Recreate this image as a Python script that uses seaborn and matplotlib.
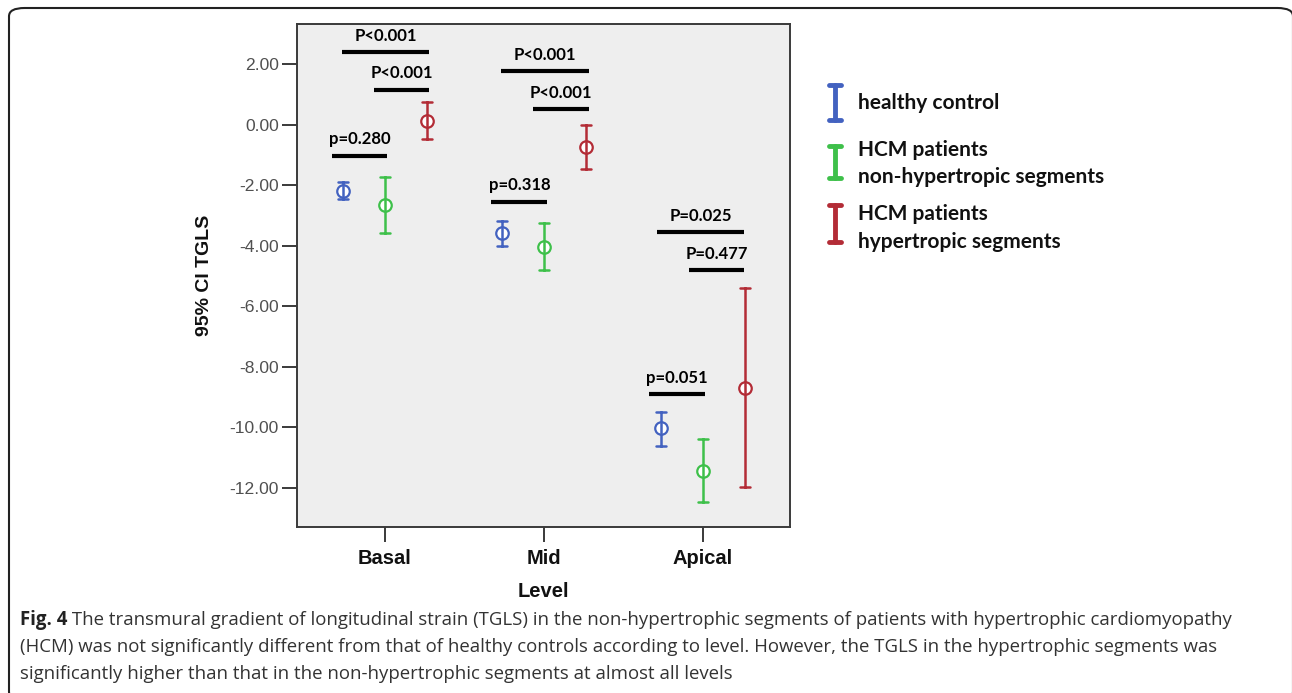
import numpy as np
import pandas as pd
import seaborn as sns
import matplotlib
matplotlib.use("Agg")
import matplotlib.pyplot as plt
from matplotlib.lines import Line2D
from matplotlib.patches import FancyBboxPatch

# ---------------- data ----------------
levels = ["Basal", "Mid", "Apical"]
groups = ["healthy control",
          "HCM patients\nnon-hypertropic segments",
          "HCM patients\nhypertropic segments"]
colors = ["#4362c0", "#3ec04a", "#b32c36"]

mean_healthy = [-2.18, -3.59, -10.03]
lo_healthy = [-2.47, -4.00, -10.60]
hi_healthy = [-1.91, -3.18, -9.48]

mean_nonhyp = [-2.65, -4.03, -11.43]
lo_nonhyp = [-3.58, -4.80, -12.47]
hi_nonhyp = [-1.73, -3.26, -10.39]

mean_hyp = [0.13, -0.73, -8.69]
lo_hyp = [-0.49, -1.47, -11.97]
hi_hyp = [0.74, -0.02, -5.41]

yticks = [2, 0, -2, -4, -6, -8, -10, -12]

# significance annotations: level index, label, bar height (y), bar span relative to level
ann_level = [0, 0, 0, 1, 1, 1, 2, 2, 2]
ann_text = ["P<0.001", "P<0.001", "p=0.280",
            "P<0.001", "P<0.001", "p=0.318",
            "P=0.025", "P=0.477", "p=0.051"]
ann_y = [2.40, 1.15, -1.03, 1.76, 0.50, -2.55, -3.55, -4.80, -8.90]
ann_x0 = [-0.27, -0.07, -0.33, -0.27, -0.07, -0.33, -0.29, -0.09, -0.34]
ann_x1 = [0.28, 0.28, 0.01, 0.28, 0.28, 0.02, 0.26, 0.26, 0.01]

caption_bold = "Fig. 4"
caption_lines = [
    " The transmural gradient of longitudinal strain (TGLS) in the non-hypertrophic segments of patients with hypertrophic cardiomyopathy",
    "(HCM) was not significantly different from that of healthy controls according to level. However, the TGLS in the hypertrophic segments was",
    "significantly higher than that in the non-hypertrophic segments at almost all levels",
]

# ---------------- long table (lo, mean, hi per cell) ----------------
rows = []
for g, m, lo, hi in zip(groups,
                        [mean_healthy, mean_nonhyp, mean_hyp],
                        [lo_healthy, lo_nonhyp, lo_hyp],
                        [hi_healthy, hi_nonhyp, hi_hyp]):
    for i, lev in enumerate(levels):
        for v in (lo[i], m[i], hi[i]):
            rows.append({"Level": lev, "group": g, "TGLS": v})
df = pd.DataFrame(rows)

# ---------------- figure ----------------
W, H = 1292, 693
sns.set_theme(style="white")
plt.rcParams["font.family"] = ["Liberation Sans", "DejaVu Sans"]

fig = plt.figure(figsize=(W / 100, H / 100), dpi=100)
fig.patch.set_facecolor("white")

def fx(px):
    return px / W

def fy(py):
    return 1 - py / H

ax = fig.add_axes([fx(297), fy(527), fx(790) - fx(297), fy(24) - fy(527)])
ax.set_facecolor("#eeeeee")

sns.pointplot(data=df, x="Level", y="TGLS", hue="group",
              order=levels, hue_order=groups, palette=colors,
              estimator="median", errorbar=("pi", 100),
              dodge=0.528, linestyles="none", markers="o",
              capsize=0.065, legend=False, ax=ax,
              err_kws={"linewidth": 1.8},
              markersize=9, markerfacecolor="white", markeredgewidth=1.6)

ax.set_xlim(-0.553, 2.547)
ax.set_ylim(-13.29, 3.32)
ax.set_yticks(yticks)
ax.set_yticklabels([f"{v:.2f}" for v in yticks])
for sp in ax.spines.values():
    sp.set_color("#3a3a3a")
    sp.set_linewidth(1.4)
ax.tick_params(axis="y", direction="out", length=11, width=1.4, color="#3a3a3a",
               labelsize=12.6, labelcolor="#505050", pad=2, left=True)
ax.tick_params(axis="x", direction="out", length=11, width=1.4, color="#3a3a3a",
               labelsize=14.5, labelcolor="#111111", pad=5, bottom=True)
for lab in ax.get_xticklabels():
    lab.set_fontweight("bold")
ax.set_xlabel("Level", fontsize=14.5, fontweight="bold", color="#111111", labelpad=10)
ax.set_ylabel("95% CI TGLS", fontsize=14, fontweight="bold", color="#111111", labelpad=12)
ax.grid(False)

# significance bars
for lev, txt, y, x0, x1 in zip(ann_level, ann_text, ann_y, ann_x0, ann_x1):
    ax.plot([lev + x0, lev + x1], [y, y], color="black", lw=3, solid_capstyle="butt")
    ax.annotate(txt, xy=((2 * lev + x0 + x1) / 2, y), xytext=(0, 6),
                textcoords="offset points", ha="center", va="bottom",
                fontsize=12, fontweight="bold", family=["Lato", "DejaVu Sans"],
                color="black")

# legend drawn as I-beam glyphs
leg_centers = [(85, 120), (146, 178), (205, 242)]
leg_text_y = [[103], [150, 177], [214, 242]]
for (t, b), col, lines, g in zip(leg_centers, colors, leg_text_y, groups):
    cx = 835
    fig.add_artist(Line2D([fx(cx), fx(cx)], [fy(t), fy(b)], color=col, lw=3.5))
    for yy in (t, b):
        fig.add_artist(Line2D([fx(cx - 6), fx(cx + 6)], [fy(yy), fy(yy)], color=col, lw=3.5))
    for yy, s in zip(lines, g.split("\n")):
        fig.text(fx(858), fy(yy), s, ha="left", va="center", fontsize=15,
                 fontweight="bold", family=["Lato", "DejaVu Sans"], color="#111111")

# page border
fig.add_artist(FancyBboxPatch((fx(9), fy(700)), fx(1293) - fx(9), fy(8) - fy(700),
                              boxstyle="round,pad=0,rounding_size=0.012",
                              transform=fig.transFigure, fill=False,
                              edgecolor="#222222", lw=1.5, clip_on=False))

# caption
cap_font = ["Open Sans", "DejaVu Sans"]
cap_size = 13.4
tb = fig.text(fx(20), fy(620), caption_bold, ha="left", va="center",
              fontsize=cap_size, fontweight="bold", family=cap_font, color="#222222")
fig.canvas.draw()
bb = tb.get_window_extent(renderer=fig.canvas.get_renderer())
x_after = bb.x1 / W
fig.text(x_after, fy(620), caption_lines[0], ha="left", va="center",
         fontsize=cap_size, family=cap_font, color="#333333")
fig.text(fx(20), fy(647), caption_lines[1], ha="left", va="center",
         fontsize=cap_size, family=cap_font, color="#333333")
fig.text(fx(20), fy(674), caption_lines[2], ha="left", va="center",
         fontsize=cap_size, family=cap_font, color="#333333")

fig.savefig("out.png", dpi=100, facecolor="white")
